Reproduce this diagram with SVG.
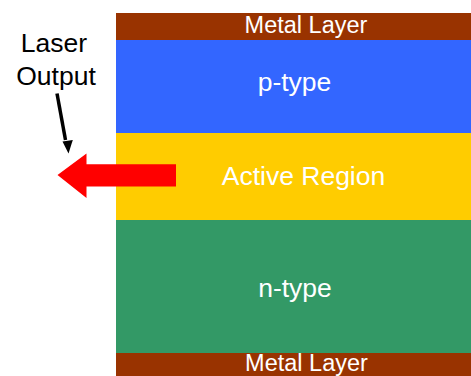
<svg xmlns="http://www.w3.org/2000/svg" width="471" height="376" viewBox="0 0 471 376">
<style>
text{font-family:"Liberation Sans",Arial,sans-serif;text-anchor:middle}
.w{fill:#ffffff}
.m{font-size:23.5px}
.b{font-size:26.5px}
</style>
<rect width="471" height="376" fill="#ffffff"/>
<g id="metal-top"><rect x="116" y="13" width="355" height="27" fill="#993300"/><text class="w m" x="306" y="33">Metal Layer</text></g>
<g id="p-type"><rect x="116" y="40" width="355" height="93" fill="#3366ff"/><text class="w b" x="294.5" y="91">p-type</text></g>
<g id="active"><rect x="116" y="133" width="355" height="87" fill="#ffcc00"/><text class="w b" x="303.5" y="184.5">Active Region</text></g>
<g id="n-type"><rect x="116" y="220" width="355" height="133" fill="#339966"/><text class="w b" x="295" y="297">n-type</text></g>
<g id="metal-bottom"><rect x="116" y="353" width="355" height="23" fill="#993300"/><text class="w m" x="306.5" y="371">Metal Layer</text></g>
<g id="label"><text class="b" x="54" y="52" fill="#000">Laser</text><text class="b" x="56" y="85" fill="#000">Output</text></g>
<g id="connectors">
<path d="M57 93.5 L65.5 140" stroke="#000" stroke-width="3.5" fill="none"/>
<polygon points="62.5,141.5 72.8,140 68.5,153.5" fill="#000"/>
<polygon points="57.5,175 86.5,153.5 86.5,164.3 176,164.3 176,186.5 86.5,186.5 86.5,198" fill="#ff0000"/>
</g>
</svg>
